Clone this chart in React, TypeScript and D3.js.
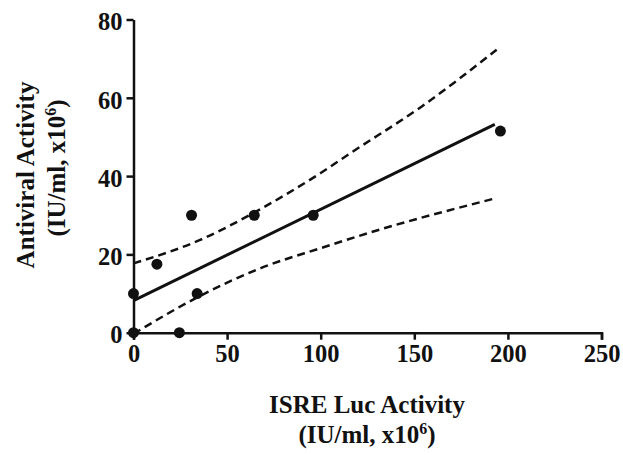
import React, { useEffect, useRef } from 'react';
import * as d3 from 'd3';

// measured points (ISRE Luc activity vs antiviral activity)
const isreLuc = [0, 0, 12.5, 24.5, 31, 34, 64.5, 96, 196];
const antiviral = [10, 0, 17.5, 0, 30, 10, 30, 30, 51.5];

// linear fit at its two ends
const fitX = [0, 193];
const fitY = [8.2, 53.2];

// 95% confidence band
const upperX = [0, 35.6, 67.9, 100, 116, 154, 194];
const upperY = [17.7, 23.7, 31.6, 40.8, 45.9, 57.8, 72.3];
const lowerX = [0, 34, 68, 100, 132, 194];
const lowerY = [-0.3, 9.0, 16.5, 21.6, 26.4, 34.4];

const xTicks = [0, 50, 100, 150, 200, 250];
const yTicks = [0, 20, 40, 60, 80];

const FONT = '"Liberation Serif", "Times New Roman", serif';

const App = () => {
  const svgRef = useRef<SVGSVGElement | null>(null);

  useEffect(() => {
    const svg = d3.select(svgRef.current);
    svg.selectAll('*').remove();

    const x = d3.scaleLinear().domain([0, 250]).range([133.5, 601.5]);
    const y = d3.scaleLinear().domain([0, 80]).range([332.7, 19.5]);

    const line = d3.line<[number, number]>()
      .x(d => x(d[0]))
      .y(d => y(d[1]))
      .curve(d3.curveMonotoneX);

    // confidence bands
    [[upperX, upperY], [lowerX, lowerY]].forEach(([bx, by]) => {
      svg.append('path')
        .attr('d', line(bx.map((v, i) => [v, by[i]] as [number, number])))
        .attr('fill', 'none')
        .attr('stroke', '#111')
        .attr('stroke-width', 2.5)
        .attr('stroke-dasharray', '8,5');
    });

    // fit line
    svg.append('path')
      .attr('d', line(fitX.map((v, i) => [v, fitY[i]] as [number, number])))
      .attr('fill', 'none')
      .attr('stroke', '#111')
      .attr('stroke-width', 3);

    // axes
    const xAxis = svg.append('g')
      .attr('transform', `translate(0,${y(0)})`)
      .call(d3.axisBottom(x).tickValues(xTicks).tickSize(7).tickPadding(5).tickSizeOuter(7));
    const yAxis = svg.append('g')
      .attr('transform', `translate(${x(0)},0)`)
      .call(d3.axisLeft(y).tickValues(yTicks).tickSize(7).tickPadding(4).tickSizeOuter(0));

    [xAxis, yAxis].forEach(g => {
      g.select('.domain').attr('stroke', '#111').attr('stroke-width', 2.5);
      g.selectAll('.tick line').attr('stroke', '#111').attr('stroke-width', 2.5);
      g.selectAll('.tick text')
        .attr('fill', '#111')
        .attr('font-family', FONT)
        .attr('font-weight', 'bold')
        .attr('font-size', 24.5);
    });
    yAxis.selectAll('.tick text').attr('dy', '0.42em');

    // points
    svg.append('g')
      .attr('fill', '#111')
      .selectAll('circle')
      .data(isreLuc)
      .join('circle')
        .attr('cx', d => x(d))
        .attr('cy', (d, i) => y(antiviral[i]))
        .attr('r', 5.5);

    // axis titles
    const text = (tx: number, ty: number, rot: number) => svg.append('text')
      .attr('transform', `translate(${tx},${ty}) rotate(${rot})`)
      .attr('text-anchor', 'middle')
      .attr('font-family', FONT)
      .attr('font-weight', 'bold')
      .attr('font-size', 25)
      .attr('fill', '#111');
    const sub = (tx: number, ty: number, rot: number) => {
      const t = text(tx, ty, rot);
      t.append('tspan').text('(IU/ml, x10');
      t.append('tspan').attr('dy', -9).attr('font-size', 16).text('6');
      t.append('tspan').attr('dy', 9).text(')');
    };

    text(367, 413, 0).text('ISRE Luc Activity');
    sub(367, 443, 0);
    text(34, 175, -90).text('Antiviral Activity');
    sub(65, 168, -90);
  }, []);

  return (
    <svg ref={svgRef} width={623} height={455}
      style={{ position: 'absolute', left: 0, top: 0, background: '#fff' }} />
  );
};

export default App;
